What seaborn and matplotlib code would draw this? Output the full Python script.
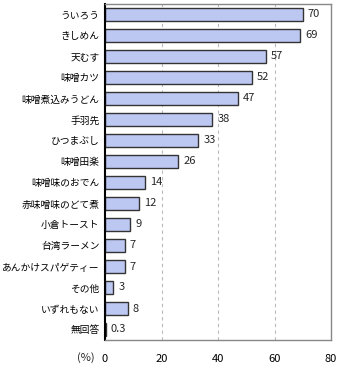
import matplotlib
matplotlib.use("Agg")
import matplotlib.pyplot as plt
import seaborn as sns
import pandas as pd
import numpy as np

categories = ["ういろう", "きしめん", "天むす", "味噌カツ", "味噌煮込みうどん", "手羽先",
              "ひつまぶし", "味噌田楽", "味噌味のおでん", "赤味噌味のどて煮", "小倉トースト",
              "台湾ラーメン", "あんかけスパゲティー", "その他", "いずれもない", "無回答"]
values = [70, 69, 57, 52, 47, 38, 33, 26, 14, 12, 9, 7, 7, 3, 8, 0.3]
value_labels = ["70", "69", "57", "52", "47", "38", "33", "26", "14", "12", "9", "7", "7", "3", "8", "0.3"]
xticks = [0, 20, 40, 60, 80]

sns.set_theme(style="white")
plt.rcParams['font.family'] = ['Noto Sans CJK JP', 'DejaVu Sans']

df = pd.DataFrame({"cat": categories, "val": values})

fig = plt.figure(figsize=(3.4, 3.7), dpi=100)
ax = fig.add_axes([105/340, 30/370, 226/340, 336/370])

sns.barplot(data=df, y="cat", x="val", orient="h", color="#bcc8f2",
            edgecolor="#333333", linewidth=1.0, width=0.62, ax=ax, saturation=1)

ax.set_xlim(0, 80)
ax.set_ylim(len(categories) - 0.5, -0.5)
ax.set_xticks(xticks)
ax.set_xticklabels([str(t) for t in xticks], fontsize=8)
ax.set_xlabel("")
ax.set_ylabel("")
ax.tick_params(axis="y", length=0, labelsize=7, pad=4, colors="black")
ax.tick_params(axis="x", length=0, labelsize=8, pad=10, colors="black")
ax.set_yticks(np.arange(-0.5, len(categories), 1), minor=True)
ax.tick_params(axis="y", which="minor", length=3.5, width=1, direction="in", color="black")

for x in xticks[1:-1]:
    ax.axvline(x, color="#bbbbbb", linestyle=(0, (3, 3)), linewidth=0.8, zorder=0)

for i, (v, lab) in enumerate(zip(values, value_labels)):
    ax.text(v + 1.8, i, lab, va="center", ha="left", fontsize=8)

for side in ["top", "right", "bottom"]:
    ax.spines[side].set_color("#888888")
    ax.spines[side].set_linewidth(1)
ax.spines["left"].set_color("black")
ax.spines["left"].set_linewidth(1.5)

fig.text(95/340, 1 - 358/370, "(%)", ha="right", va="center", fontsize=8)

fig.savefig("out.png", dpi=100)
